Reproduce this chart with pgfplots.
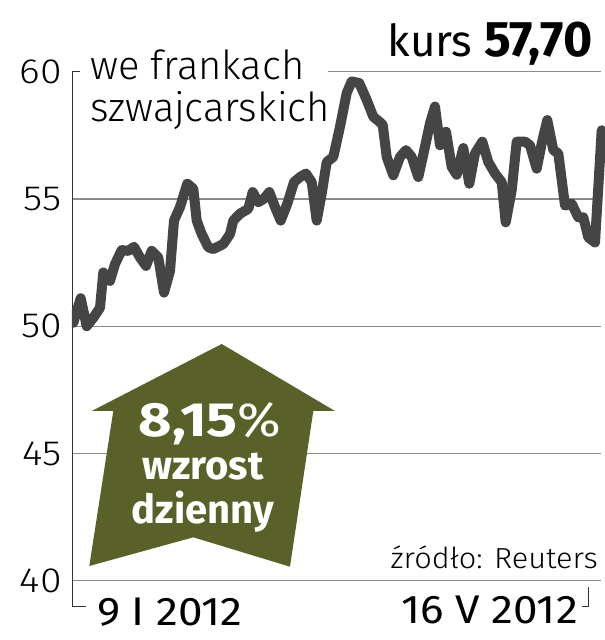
\documentclass[border=0pt]{standalone}
\usepackage{fontspec}
\usepackage{pgfplots}
\pgfplotsset{compat=1.18}
\setmainfont{Fira Sans}
\newfontfamily\flight{Fira Sans}[UprightFont=* Light]
\newfontfamily\flightw{Fira Sans}[UprightFont=* Light, FakeStretch=1.06]
\newfontfamily\ftick{Fira Sans}[UprightFont=* Light, FakeStretch=1.12]
\newfontfamily\freg{Fira Sans}
\newfontfamily\fregw{Fira Sans}[FakeStretch=1.1]
\newfontfamily\fbold{Fira Sans}[UprightFont=* Bold]
\newfontfamily\fboldw{Fira Sans}[UprightFont=* Bold, FakeStretch=1.2]
\definecolor{linegray}{HTML}{454545}
\definecolor{gridgray}{HTML}{8C8C8C}
\definecolor{olivec}{HTML}{5A6128}
\definecolor{axisc}{HTML}{333333}

\begin{document}
\begin{tikzpicture}
\useasboundingbox (-72pt,-59.3pt) rectangle (533pt,580.7pt);
% background frame (px coordinates, y downwards)
\begin{scope}[x=1pt,y=-1pt,shift={(-72pt,580.7pt)}]
  \draw[gridgray, line width=1.2pt] (328,71.7) -- (601,71.7);
  \draw[gridgray, line width=1.2pt] (72.7,198.95) -- (601,198.95);
  \draw[gridgray, line width=1.2pt] (72.7,326.2) -- (601,326.2);
  \draw[gridgray, line width=1.2pt] (72.7,453.45) -- (601,453.45);
  \draw[gridgray, line width=1.2pt] (72.7,580.7) -- (601,580.7);
  \draw[axisc, line width=1.3pt] (80,71.7) -- (72.7,71.7) -- (72.7,606.7) -- (86,606.7);
  \draw[axisc, line width=1.3pt] (581.7,606.7) -- (588.3,606.7) -- (588.3,587);
\end{scope}
\begin{axis}[
  at={(0pt,0pt)}, anchor=south west,
  scale only axis, width=533pt, height=509pt,
  xmin=72, xmax=605, ymin=40, ymax=60,
  axis line style={draw=none},
  xtick=\empty, ytick={40,45,50,55,60},
  major tick length=0pt,
  yticklabel style={font=\ftick\fontsize{35}{35}\selectfont, text=black, inner sep=0pt, xshift=-10pt},
  /pgf/number format/assume math mode=true,
  clip=true]
\addplot[linegray, line width=10pt, line join=round, line cap=round] coordinates {
(73.3,50.13) (80.7,51.10) (86.7,50.00) (93.3,50.33) (100,50.72) (103.3,52.11)
(110,51.78) (115,52.44) (121.7,52.99) (128.3,52.96) (134,53.12) (140,52.70)
(146,52.37) (151.7,52.96) (158.3,52.70) (164,51.32) (170,52.17) (174,54.15)
(180,54.68) (187.3,55.60) (193.3,55.40) (196.7,54.15) (201.7,53.62) (208.3,53.10)
(213.3,53.03) (223.3,53.23) (230,53.62) (233.3,54.15) (240,54.42) (248.3,54.61)
(252.7,55.27) (258.3,54.87) (264,55.01) (269.3,55.27) (275,54.68) (280.7,54.15)
(287.3,54.81) (294,55.66) (300,55.86) (306,56.00) (311.7,55.66) (316.7,54.15)
(321.7,55.21) (326.7,56.45) (333.3,56.65) (340,57.84) (346.7,59.16) (351.7,59.62)
(359.3,59.55) (366.7,58.89) (373.3,58.23) (379.3,58.04) (382.7,57.91) (386.7,56.65)
(393.3,55.93) (400,56.65) (406,56.92) (411.7,56.65) (418.3,55.86) (425,57.05)
(430,57.97) (435,58.63) (440,57.11) (446,57.64) (451.7,56.26) (456.7,55.95)
(463.3,57.00) (469.3,55.60) (475,56.79) (482.3,57.25) (488.3,56.45) (495,56.00)
(501.7,55.66) (505.7,54.08) (511.7,55.34) (516.7,57.25) (525,57.25) (530,57.11)
(536.7,56.19) (541.7,57.18) (547.3,58.10) (553.3,56.92) (558.3,56.79) (565,54.74)
(571.7,54.81) (578.3,54.28) (583.3,54.28) (588.3,53.49) (595,53.29) (601.7,57.70)
};
\end{axis}
\begin{scope}[x=1pt,y=-1pt,shift={(-72pt,580.7pt)}]
  \fill[olivec] (221.7,344) -- (335,411) -- (313.3,411) -- (290,566.7) -- (193.3,537.3)
     -- (89.3,566) -- (113.3,411) -- (91.7,411) -- cycle;
  \node[anchor=base, inner sep=0pt, text=white] at (210,437)
     {\fboldw\fontsize{48}{48}\selectfont 8,15{\fregw\%}};
  \node[anchor=base, inner sep=0pt, text=white] at (203,480)
     {\fbold\fontsize{40}{40}\selectfont wzrost};
  \node[anchor=base, inner sep=0pt, text=white] at (203,523)
     {\fbold\fontsize{40}{40}\selectfont dzienny};
  \node[anchor=base west, inner sep=0pt] at (90,80)
     {\flight\fontsize{40}{40}\selectfont we frankach};
  \node[anchor=base west, inner sep=0pt] at (90,121.7)
     {\flight\fontsize{40}{40}\selectfont szwajcarskich};
  \node[anchor=base east, inner sep=0pt] at (593,56.7)
     {\freg\fontsize{44}{44}\selectfont kurs \fbold\fontsize{50}{50}\selectfont 57,70};
  \node[anchor=base east, inner sep=0pt] at (598,568)
     {\flightw\fontsize{29}{29}\selectfont źródło: Reuters};
  \node[anchor=base west, inner sep=0pt] at (97,625)
     {\fregw\fontsize{40}{40}\selectfont 9 I 2012};
  \node[anchor=base east, inner sep=0pt] at (578,623)
     {\fregw\fontsize{40}{40}\selectfont 16 V 2012};
\end{scope}
\end{tikzpicture}
\end{document}
